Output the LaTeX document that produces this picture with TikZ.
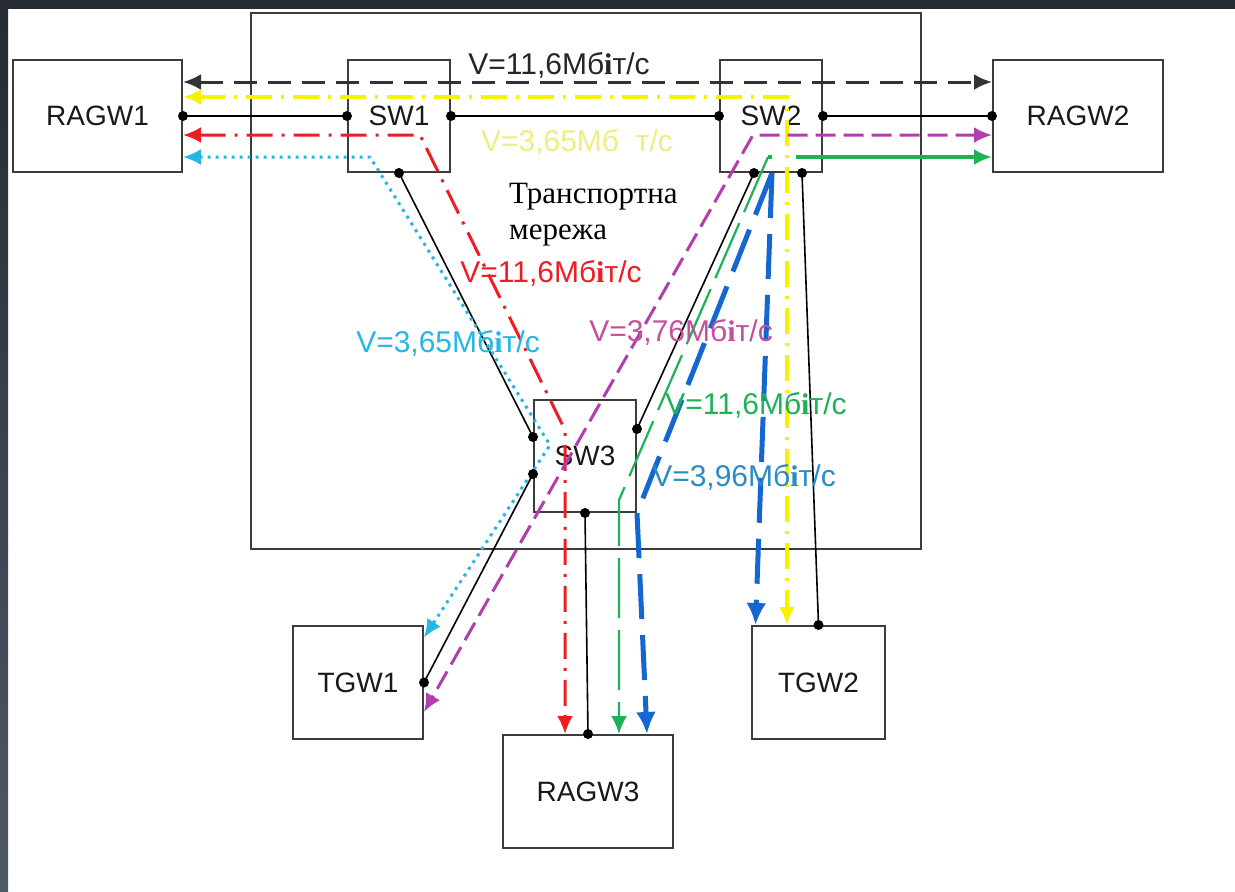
\documentclass[tikz,border=0pt]{standalone}
\usepackage{fontspec}
\setmainfont{Liberation Sans}
\newfontfamily\trserif{Liberation Serif}
\usetikzlibrary{arrows.meta,calc}
\definecolor{frame}{HTML}{242B34}
\definecolor{frameb}{HTML}{4E5966}
\definecolor{boxgray}{HTML}{3C3C3C}
\definecolor{cyel}{HTML}{F7F200}
\definecolor{cyellab}{HTML}{EEEE80}
\definecolor{cred}{HTML}{EE1D23}
\definecolor{ccyan}{HTML}{25B6E6}
\definecolor{cmag}{HTML}{B23EAE}
\definecolor{cmaglab}{HTML}{C4509C}
\definecolor{cgreen}{HTML}{1DB256}
\definecolor{cblue}{HTML}{1466D0}
\definecolor{cbluelab}{HTML}{2A8CC4}
\newcommand{\myi}{{\trserif\bfseries i}}
\begin{document}
\begin{tikzpicture}[x=1pt,y=-1pt,
  >={Latex[length=18pt,width=16pt]},
  box/.style={draw=boxgray,line width=2pt,inner sep=0pt,font=\fontsize{28}{32}\selectfont,text=black!90},
  link/.style={line width=1.6pt,black},
  lab/.style={font=\fontsize{30}{34}\selectfont,inner sep=0pt},
  fblack/.style={line width=3pt,black!80,dash pattern=on 23pt off 11pt},
  fyel/.style={line width=4pt,cyel,dash pattern=on 26pt off 9pt on 3pt off 9pt},
  fred/.style={line width=3pt,cred,dash pattern=on 26pt off 9pt on 3pt off 9pt},
  fcyan/.style={line width=3pt,ccyan,dash pattern=on 3pt off 5pt},
  fmag/.style={line width=3pt,cmag,dash pattern=on 20pt off 8pt},
  fgreenh/.style={line width=4pt,cgreen,dash pattern=on 180pt off 24pt},
  fgreen/.style={line width=2.2pt,cgreen,dash pattern=on 60pt off 12pt},
  fblue/.style={line width=5pt,cblue,dash pattern=on 45pt off 16pt,>={Latex[length=22pt,width=20pt]}}
]
\useasboundingbox (0,0) rectangle (1235,892);
\fill[white] (0,0) rectangle (1235,892);
\fill[frame] (0,0) rectangle (1235,9);
\shade[top color=frame,bottom color=frameb] (0,0) rectangle (8,892);

% transport network
\node[draw=boxgray,line width=2pt,inner sep=0pt,minimum width=670pt,minimum height=536pt] (net) at (586,281) {};

% boxes
\node[box,minimum width=169pt,minimum height=112pt] (ragw1) at (97.5,116) {RAGW1};
\node[box,minimum width=102pt,minimum height=112pt] (sw1) at (399,116) {SW1};
\node[box,minimum width=102pt,minimum height=112pt] (sw2) at (771,116) {SW2};
\node[box,minimum width=170pt,minimum height=112pt] (ragw2) at (1078,116) {RAGW2};
\node[box,minimum width=102pt,minimum height=112pt] (sw3) at (585,456) {SW3};
\node[box,minimum width=130pt,minimum height=113pt] (tgw1) at (358,682.5) {TGW1};
\node[box,minimum width=133pt,minimum height=113pt] (tgw2) at (818.5,682.5) {TGW2};
\node[box,minimum width=170pt,minimum height=113pt] (ragw3) at (588,791.5) {RAGW3};

% ports
\coordinate (s3a) at ([yshift=19pt]sw3.west);
\coordinate (s3b) at ([yshift=-18pt]sw3.west);
\coordinate (s3r) at ([yshift=27pt]sw3.east);
\coordinate (s2a) at ([xshift=-17pt]sw2.south);
\coordinate (s2b) at ([xshift=31pt]sw2.south);

% physical links
\draw[link] (ragw1.east) -- (sw1.west);
\draw[link] (sw1.east) -- (sw2.west);
\draw[link] (sw2.east) -- (ragw2.west);
\draw[link] (sw1.south) -- (s3a);
\draw[link] (s3b) -- (tgw1.east);
\draw[link] (s3r) -- (s2a);
\draw[link] (s2b) -- (tgw2.north);
\draw[link] (sw3.south) -- (ragw3.north);

% flows
\draw[fblack,<->] ([yshift=34pt]ragw1.east) -- ([yshift=34pt]ragw2.west);

\coordinate (yb) at (787,97);
\draw[fyel,<->] ([yshift=19pt]ragw1.east) -- (yb) -- ([xshift=-31.5pt]tgw2.north);

\coordinate (rb1) at (420,135);
\coordinate (rb2) at (565,430);
\draw[fred,<->] ([yshift=-19pt]ragw1.east) -- (rb1) -- (rb2) -- ([xshift=-23pt]ragw3.north);

\coordinate (cb1) at (370,157);
\coordinate (cb2) at (550,445);
\draw[fcyan,<->] ([yshift=-41pt]ragw1.east) -- (cb1) -- (cb2) -- ([yshift=45pt]tgw1.east);

\coordinate (mb1) at (753,135);
\draw[fmag,<->] ([yshift=-19pt]ragw2.west) -- (mb1) -- ([yshift=-29.5pt]tgw1.east);

\coordinate (gb1) at (768,157);
\coordinate (gb2) at (619,500);
\draw[fgreenh,<-] ([yshift=-41pt]ragw2.west) -- (gb1);
\draw[fgreen,->] (gb1) -- (gb2) -- ([xshift=31pt]ragw3.north);

\coordinate (bb0) at ([xshift=1pt]sw2.south);
\draw[fblue,->] (bb0) -- (sw3.south east) -- ([xshift=59pt]ragw3.north);
\draw[fblue,->] (bb0) -- ([xshift=-63pt]tgw2.north);

% dots
\foreach \p in {ragw1.east,sw1.west,sw1.east,sw2.west,sw2.east,ragw2.west,sw1.south,s3a,s3b,tgw1.east,s3r,s2a,s2b,tgw2.north,sw3.south,ragw3.north}
  \fill[black] (\p) circle (5pt);

% labels
\node[lab,text=black!85] (lblk) at (559,65) {V=11,6Мб\myi т/с};
\node[lab,text=cyellab] (lyel) at (577,142) {V=3,65Мб\ \ т/с};
\node[lab,text=cred] (lred) at (551,273) {V=11,6Мб\myi т/с};
\node[lab,text=ccyan] (lcyan) at (448,343) {V=3,65Мб\myi т/с};
\node[lab,text=cmaglab] (lmag) at (681,332) {V=3,76Мб\myi т/с};
\node[lab,text=cgreen] (lgreen) at (756,405) {V=11,6Мб\myi т/с};
\node[lab,text=cbluelab] (lblue) at (744,477) {V=3,96Мб\myi т/с};
\node[font=\trserif\fontsize{31}{36}\selectfont,align=left,anchor=west,inner sep=0pt] (tn) at (509,215) {Транспортна\\мережа};
\end{tikzpicture}
\end{document}
